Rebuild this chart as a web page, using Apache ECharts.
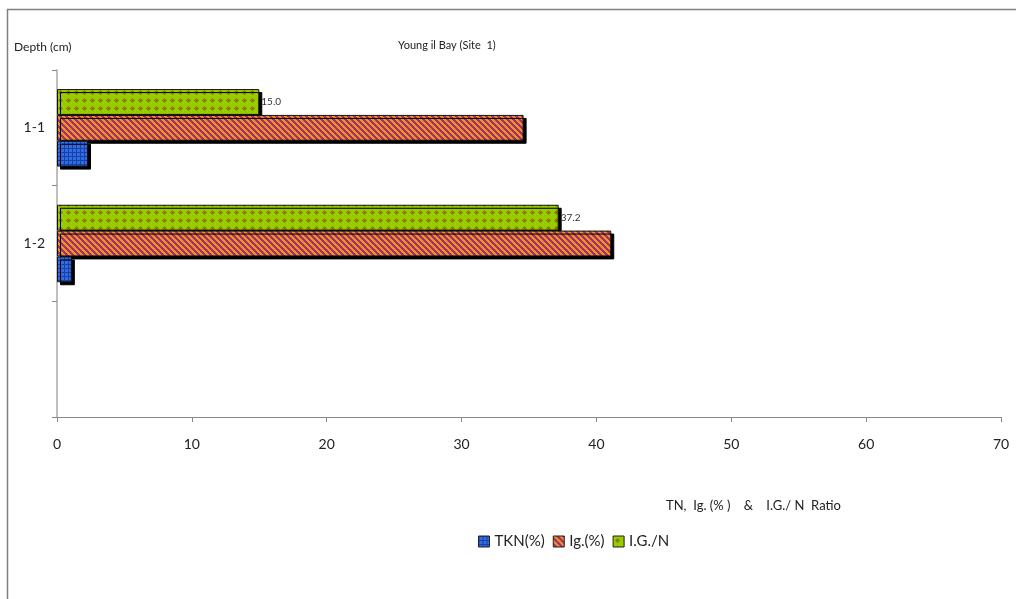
<!DOCTYPE html>
<html>
<head>
<meta charset="utf-8">
<script src="https://cdn.jsdelivr.net/npm/echarts@6/dist/echarts.min.js"></script>
<style>
  html, body { margin: 0; padding: 0; background: #fff; }
  #chart { width: 1016px; height: 599px; }
</style>
</head>
<body>
<div id="chart"></div>
<script>
// Depth intervals (category axis, top to bottom; last slot left empty)
const depths = ['1-1', '1-2', ''];
// Measured values per depth
const tkn = [2.3, 1.1, null];
const ig = [34.6, 41.1, null];
const igN = [15.0, 37.2, null];
const seriesNames = ['TKN(%)', 'Ig.(%)', 'I.G./N'];
const xTicks = { min: 0, max: 70, step: 10 };

// Small repeating tiles used as bar fills
function tile(w, h, paint) {
  const c = document.createElement('canvas');
  c.width = w; c.height = h;
  const g = c.getContext('2d');
  for (let y = 0; y < h; y++) {
    for (let x = 0; x < w; x++) {
      g.fillStyle = paint(x, y);
      g.fillRect(x, y, 1, 1);
    }
  }
  return { image: c, repeat: 'repeat' };
}
const bluePattern = tile(4, 4, (x, y) => (x === 0 || y === 0) ? '#1b3fa8' : '#2f6ee0');
const stripePattern = tile(6, 6, (x, y) => (((x - y) % 6 + 6) % 6) < 3 ? '#f5901e' : '#9b3373');
const dotPattern = tile(8, 8, (x, y) => (Math.abs(x - 4) + Math.abs(y - 4) <= 2) ? '#8a8200' : '#99cc00');

const FONT = 'Lato, "Open Sans", sans-serif';
const barStyle = (fill) => ({
  color: fill,
  borderColor: '#111',
  borderWidth: 1,
  shadowColor: '#000',
  shadowBlur: 0,
  shadowOffsetX: 3,
  shadowOffsetY: 3
});

const chart = echarts.init(document.getElementById('chart'), null, { renderer: 'canvas' });
chart.setOption({
  animation: false,
  backgroundColor: '#fff',
  textStyle: { fontFamily: FONT },
  graphic: [
    {
      type: 'rect',
      shape: { x: 7.5, y: 9.5, width: 1200, height: 800 },
      style: { fill: 'none', stroke: '#808080', lineWidth: 1.5 },
      silent: true, z: -1
    },
    {
      type: 'text', left: 14, top: 41,
      style: { text: 'Depth (cm)', fontSize: 12, fill: '#222', fontFamily: FONT }
    },
    {
      type: 'text', left: 666, top: 499,
      style: { text: 'TN,  Ig. (% )    &    I.G./ N  Ratio', fontSize: 13, fill: '#222', fontFamily: FONT }
    }
  ],
  title: {
    text: 'Young il Bay (Site  1)',
    left: 393, top: 35,
    textStyle: { fontSize: 11, fontWeight: 'normal', color: '#222', fontFamily: FONT }
  },
  legend: {
    left: 473, top: 529,
    icon: 'rect',
    itemWidth: 11, itemHeight: 11, itemGap: 8,
    textStyle: { fontSize: 15, color: '#222', fontFamily: FONT },
    itemStyle: { shadowBlur: 0, shadowOffsetX: 0, shadowOffsetY: 0, borderColor: '#222', borderWidth: 1 },
    data: seriesNames
  },
  grid: { left: 57, right: 15, top: 70, bottom: 182, containLabel: false },
  xAxis: {
    type: 'value',
    min: xTicks.min, max: xTicks.max, interval: xTicks.step,
    splitLine: { show: false },
    axisLine: { show: true, lineStyle: { color: '#888' } },
    axisTick: { show: true, length: 5, lineStyle: { color: '#888' } },
    axisLabel: { fontSize: 14, color: '#222', margin: 20, fontFamily: FONT }
  },
  yAxis: {
    type: 'category',
    data: depths,
    inverse: true,
    axisLine: { show: true, lineStyle: { color: '#aaa', width: 1.5 } },
    axisTick: { show: true, length: 5, lineStyle: { color: '#888' } },
    axisLabel: { fontSize: 14, color: '#222', margin: 12, fontFamily: FONT }
  },
  // listed top-to-bottom within each depth group
  series: [
    {
      name: seriesNames[2], type: 'bar', data: igN,
      barGap: '0%', barCategoryGap: '33%',
      itemStyle: barStyle(dotPattern),
      label: {
        show: true, position: 'right', distance: 2,
        fontSize: 10, color: '#333', fontFamily: FONT,
        formatter: (p) => p.value == null ? '' : Number(p.value).toFixed(1)
      }
    },
    {
      name: seriesNames[1], type: 'bar', data: ig,
      itemStyle: barStyle(stripePattern)
    },
    {
      name: seriesNames[0], type: 'bar', data: tkn,
      itemStyle: barStyle(bluePattern)
    }
  ]
});
</script>
</body>
</html>
